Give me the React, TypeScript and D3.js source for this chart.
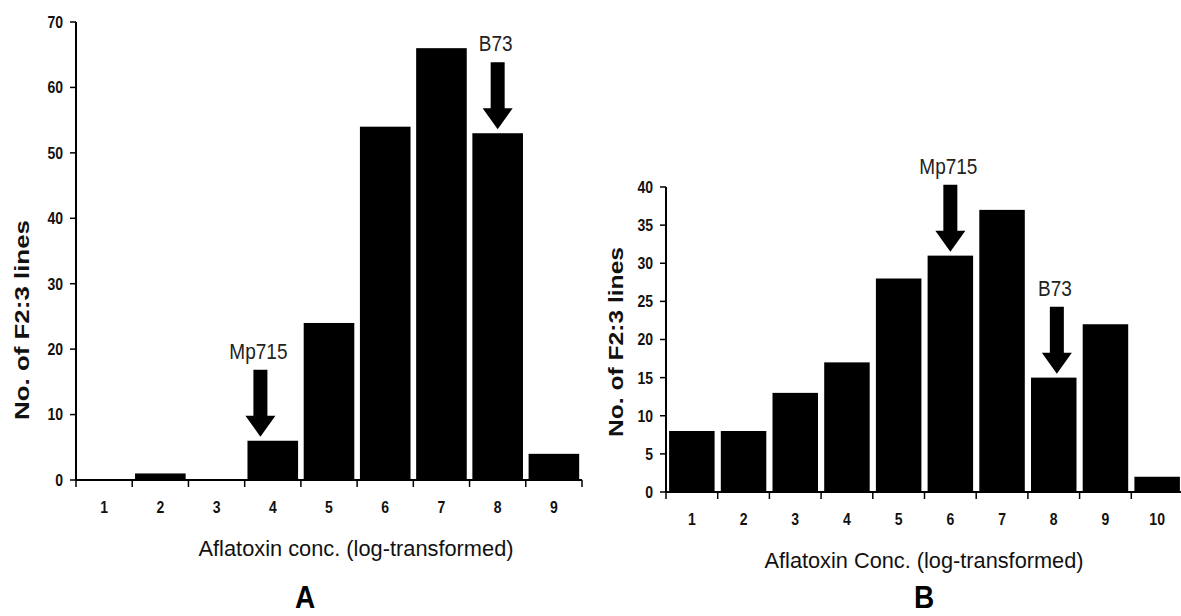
import React from "react";
import * as d3 from "d3";

// Panel A: aflatoxin class counts of F2:3 lines
const aCategories = ["1", "2", "3", "4", "5", "6", "7", "8", "9"];
const aCounts = [0, 1, 0, 6, 24, 54, 66, 53, 4];
const aYTicks = [0, 10, 20, 30, 40, 50, 60, 70];
const aMarkers = [
  { category: "4", label: "Mp715", shift: -0.22 },
  { category: "8", label: "B73", shift: 0 },
];

// Panel B
const bCategories = ["1", "2", "3", "4", "5", "6", "7", "8", "9", "10"];
const bCounts = [8, 8, 13, 17, 28, 31, 37, 15, 22, 2];
const bYTicks = [0, 5, 10, 15, 20, 25, 30, 35, 40];
const bMarkers = [
  { category: "6", label: "Mp715", shift: 0 },
  { category: "8", label: "B73", shift: 0.06 },
];

const FONT = "'Liberation Sans', Arial, Helvetica, sans-serif";

type Marker = { category: string; label: string; shift: number };

type PanelProps = {
  categories: string[];
  counts: number[];
  yTicks: number[];
  markers: Marker[];
  x0: number;
  x1: number;
  yTop: number;
  yBottom: number;
  padInner: number;
  xTitle: string;
  xTitleX: number;
  xTitleLen: number;
  yTitle: string;
  yTitleX: number;
  yTitleY: number;
  yTitleLen: number;
};

// tall, slightly condensed label placed at (x, y)
function Tall(props: {
  x: number;
  y: number;
  anchor: "start" | "middle" | "end";
  size: number;
  weight?: string;
  sy?: number;
  dy?: string;
  fill?: string;
  children: React.ReactNode;
}) {
  return (
    <text
      transform={`translate(${props.x},${props.y}) scale(1,${props.sy ?? 1.2})`}
      textAnchor={props.anchor}
      dy={props.dy}
      fontFamily={FONT}
      fontWeight={props.weight ?? "normal"}
      fontSize={props.size}
      fill={props.fill ?? "#111"}
    >
      {props.children}
    </text>
  );
}

function Panel(p: PanelProps) {
  const x = d3
    .scaleBand<string>()
    .domain(p.categories)
    .range([p.x0, p.x1])
    .paddingInner(p.padInner)
    .paddingOuter(p.padInner / 2);
  const yMax = p.yTicks[p.yTicks.length - 1];
  const y = d3.scaleLinear().domain([0, yMax]).range([p.yBottom, p.yTop]);
  const step = x.step();
  const bw = x.bandwidth();
  const boundary = (c: string) => (x(c) as number) - (p.padInner * step) / 2;
  const center = (c: string) => (x(c) as number) + bw / 2;

  const arrowLen = 67;
  const headLen = 21;
  const shaftHalf = 7;
  const headHalf = 15;
  const gap = 4;

  return (
    <g>
      {/* bars */}
      {p.categories.map((c, i) => (
        <rect
          key={c}
          x={x(c)}
          y={y(p.counts[i])}
          width={bw}
          height={p.yBottom - y(p.counts[i])}
          fill="#000"
        />
      ))}

      {/* y axis */}
      <line x1={p.x0} x2={p.x0} y1={p.yTop} y2={p.yBottom} stroke="#000" strokeWidth={2} />
      {p.yTicks.map((t) => (
        <g key={t}>
          <line x1={p.x0 - 6} x2={p.x0} y1={y(t)} y2={y(t)} stroke="#000" strokeWidth={1.5} />
          <Tall x={p.x0 - 13} y={y(t)} dy="0.35em" anchor="end" size={14} weight="bold">
            {t}
          </Tall>
        </g>
      ))}

      {/* x axis */}
      <line x1={p.x0} x2={p.x1} y1={p.yBottom} y2={p.yBottom} stroke="#000" strokeWidth={2} />
      {p.categories.map((c) => (
        <line
          key={"t" + c}
          x1={boundary(c)}
          x2={boundary(c)}
          y1={p.yBottom}
          y2={p.yBottom + 7}
          stroke="#000"
          strokeWidth={1.5}
        />
      ))}
      <line x1={p.x1} x2={p.x1} y1={p.yBottom} y2={p.yBottom + 7} stroke="#000" strokeWidth={1.5} />
      {p.categories.map((c) => (
        <Tall key={"l" + c} x={center(c)} y={p.yBottom + 33} anchor="middle" size={14} weight="bold">
          {c}
        </Tall>
      ))}

      {/* axis titles */}
      <text
        transform={`translate(${p.xTitleX},${p.yBottom + 76}) scale(1,1.1)`}
        textAnchor="middle"
        fontFamily={FONT}
        fontSize={20}
        textLength={p.xTitleLen}
        lengthAdjust="spacingAndGlyphs"
        fill="#111"
      >
        {p.xTitle}
      </text>
      <text
        transform={`translate(${p.yTitleX},${p.yTitleY}) rotate(-90)`}
        textAnchor="middle"
        dy="0.35em"
        fontFamily={FONT}
        fontWeight="bold"
        fontSize={20}
        textLength={p.yTitleLen}
        lengthAdjust="spacingAndGlyphs"
        fill="#111"
      >
        {p.yTitle}
      </text>

      {/* parent-line markers */}
      {p.markers.map((m) => {
        const i = p.categories.indexOf(m.category);
        const cx = center(m.category) + m.shift * step;
        const tip = y(p.counts[i]) - gap;
        const top = tip - arrowLen;
        const neck = tip - headLen;
        const d =
          [
            [cx - shaftHalf, top],
            [cx + shaftHalf, top],
            [cx + shaftHalf, neck],
            [cx + headHalf, neck],
            [cx, tip],
            [cx - headHalf, neck],
            [cx - shaftHalf, neck],
          ]
            .map((pt, k) => (k ? "L" : "M") + pt[0] + "," + pt[1])
            .join("") + "Z";
        return (
          <g key={m.label}>
            <path d={d} fill="#000" />
            <Tall x={cx - 2} y={top - 11} anchor="middle" size={19} sy={1.15} fill="#222">
              {m.label}
            </Tall>
          </g>
        );
      })}
    </g>
  );
}

export default function App() {
  return (
    <svg
      width={1181}
      height={616}
      viewBox="0 0 1181 616"
      style={{ position: "absolute", left: 0, top: 0, display: "block", background: "#fff" }}
    >
      <rect width={1181} height={616} fill="#fff" />
      <Panel
        categories={aCategories}
        counts={aCounts}
        yTicks={aYTicks}
        markers={aMarkers}
        x0={76}
        x1={582}
        yTop={22}
        yBottom={480}
        padInner={0.1}
        xTitle="Aflatoxin conc. (log-transformed)"
        xTitleX={356}
        xTitleLen={315}
        yTitle="No. of F2:3 lines"
        yTitleX={22}
        yTitleY={320}
        yTitleLen={200}
      />
      <Tall x={305} y={608} anchor="middle" size={28} weight="bold" sy={1.15} fill="#000">
        A
      </Tall>
      <Panel
        categories={bCategories}
        counts={bCounts}
        yTicks={bYTicks}
        markers={bMarkers}
        x0={666}
        x1={1183}
        yTop={187}
        yBottom={492}
        padInner={0.12}
        xTitle="Aflatoxin Conc. (log-transformed)"
        xTitleX={924}
        xTitleLen={319}
        yTitle="No. of F2:3 lines"
        yTitleX={616}
        yTitleY={342}
        yTitleLen={190}
      />
      <Tall x={924} y={608} anchor="middle" size={28} weight="bold" sy={1.15} fill="#000">
        B
      </Tall>
    </svg>
  );
}
